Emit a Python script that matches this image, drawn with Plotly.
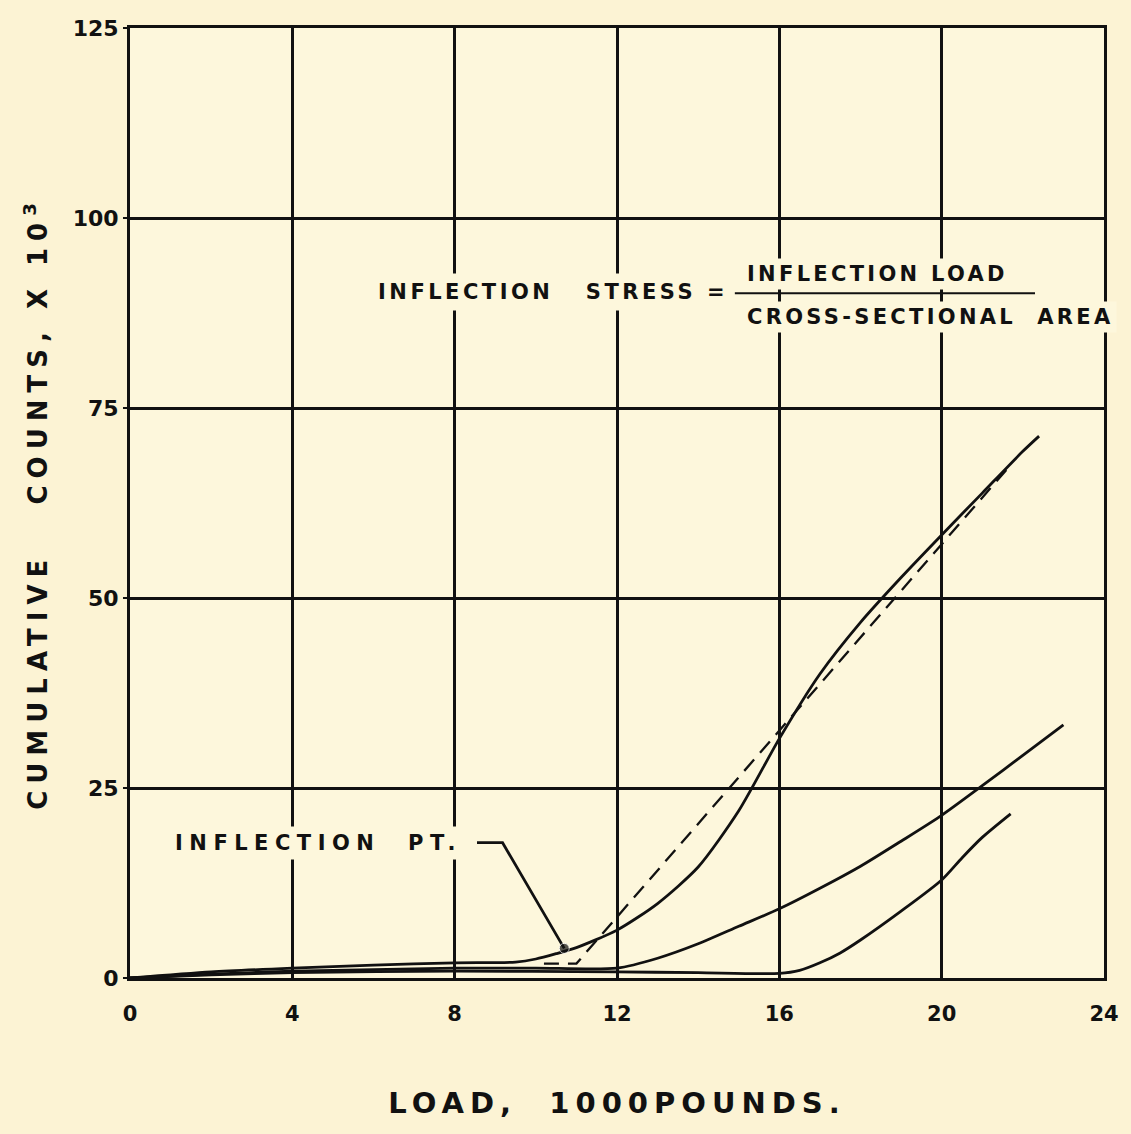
import plotly.graph_objects as go

# ---- data ----
x_a = [0, 2, 4, 6, 8, 9.5, 10, 10.5, 11, 12, 13, 14, 15, 16, 17, 18, 19, 20, 21, 22, 22.4]
y_a = [0, 0.8, 1.3, 1.7, 2.0, 2.1, 2.5, 3.2, 4.0, 6.3, 9.8, 14.6, 22.0, 31.5, 40.0, 46.8, 52.7, 58.3, 63.8, 69.3, 71.3]

x_b = [0, 2, 4, 6, 8, 10, 12, 13, 14, 15, 16, 17, 18, 19, 20, 21, 22, 23]
y_b = [0, 0.5, 0.9, 1.1, 1.3, 1.3, 1.3, 2.6, 4.5, 6.8, 9.1, 11.8, 14.7, 18.0, 21.4, 25.3, 29.3, 33.3]

x_c = [0, 2, 4, 8, 12, 14, 16, 16.5, 17, 17.5, 18, 19, 20, 20.5, 21, 21.7]
y_c = [0, 0.4, 0.7, 0.9, 0.8, 0.7, 0.6, 1.0, 2.0, 3.3, 5.0, 8.8, 12.9, 15.8, 18.5, 21.6]

x_dash = [10.2, 11.0, 21.7]
y_dash = [1.9, 1.9, 67.5]

x_leader = [8.55, 9.18, 10.7]
y_leader = [17.8, 17.8, 3.9]

x_ticks = [0, 4, 8, 12, 16, 20, 24]
y_ticks = [0, 25, 50, 75, 100, 125]

PAPER = "#fcf3d4"
PLOT = "#fdf7dc"
INK = "#111111"
FONT = "DejaVu Sans"


def spaced(text, px):
    return f'<span style="letter-spacing:{px}px">{text}</span>'


fig = go.Figure()
for xs, ys in [(x_a, y_a), (x_b, y_b), (x_c, y_c)]:
    fig.add_trace(go.Scatter(x=xs, y=ys, mode="lines",
                             line=dict(color=INK, width=2.8, shape="spline", smoothing=0.7),
                             showlegend=False, hoverinfo="skip"))
fig.add_trace(go.Scatter(x=x_dash, y=y_dash, mode="lines",
                         line=dict(color=INK, width=2.3, dash="15px,9px"),
                         showlegend=False, hoverinfo="skip"))
fig.add_trace(go.Scatter(x=x_leader, y=y_leader, mode="lines+markers",
                         line=dict(color=INK, width=2.8),
                         marker=dict(size=[0, 0, 10], color=INK, symbol="circle"),
                         showlegend=False, hoverinfo="skip"))

ann_font = dict(family=FONT, size=21, color=INK, weight="bold")
fig.add_annotation(x=8.3, y=17.8, xref="x", yref="y", text=spaced("INFLECTION  PT.", 6.5),
                   showarrow=False, xanchor="right", yanchor="middle", font=ann_font,
                   bgcolor=PLOT, borderpad=4)
fig.add_annotation(x=14.9, y=90.3, xref="x", yref="y", text=spaced("INFLECTION   STRESS =", 3.5),
                   showarrow=False, xanchor="right", yanchor="middle", font=ann_font,
                   bgcolor=PLOT, borderpad=6)
fig.add_annotation(x=15.1, y=92.6, xref="x", yref="y", text=spaced("INFLECTION LOAD", 3.3),
                   showarrow=False, xanchor="left", yanchor="middle", font=ann_font,
                   bgcolor=PLOT, borderpad=3)
fig.add_annotation(x=15.1, y=87.0, xref="x", yref="y", text=spaced("CROSS-SECTIONAL  AREA", 3.3),
                   showarrow=False, xanchor="left", yanchor="middle", font=ann_font,
                   bgcolor=PLOT, borderpad=3)
fig.add_shape(type="line", x0=14.9, x1=22.3, y0=90.1, y1=90.1, xref="x", yref="y",
              line=dict(color=INK, width=2.2))

fig.update_layout(
    width=1131, height=1134,
    paper_bgcolor=PAPER, plot_bgcolor=PLOT,
    margin=dict(l=130, r=21, t=28, b=156),
    showlegend=False,
    font=dict(family=FONT, color=INK),
)
fig.update_xaxes(range=[0, 24], tickvals=x_ticks, ticktext=[str(v) for v in x_ticks],
                 showgrid=True, gridcolor=INK, gridwidth=2.5, zeroline=False,
                 showline=True, linecolor=INK, linewidth=3, mirror=True,
                 ticks="", ticklabelstandoff=15,
                 tickfont=dict(family=FONT, size=21, color=INK, weight="bold"),
                 title=dict(text=spaced("LOAD,  1000POUNDS.", 6),
                            font=dict(family=FONT, size=29, color=INK, weight="bold"),
                            standoff=68))
fig.update_yaxes(range=[0, 125], tickvals=y_ticks, ticktext=[str(v) for v in y_ticks],
                 showgrid=True, gridcolor=INK, gridwidth=2.5, zeroline=False,
                 showline=True, linecolor=INK, linewidth=3, mirror=True,
                 ticks="outside", ticklen=4, tickcolor=INK, tickwidth=2, ticklabelstandoff=0,
                 tickfont=dict(family=FONT, size=22, color=INK, weight="bold"),
                 title=dict(text=spaced("CUMULATIVE   COUNTS, X 10<sup>3</sup>", 7),
                            font=dict(family=FONT, size=26, color=INK, weight="bold"),
                            standoff=18))

fig.write_html("out.html", config={"displayModeBar": False},
               post_script="document.body.style.margin='0';")
